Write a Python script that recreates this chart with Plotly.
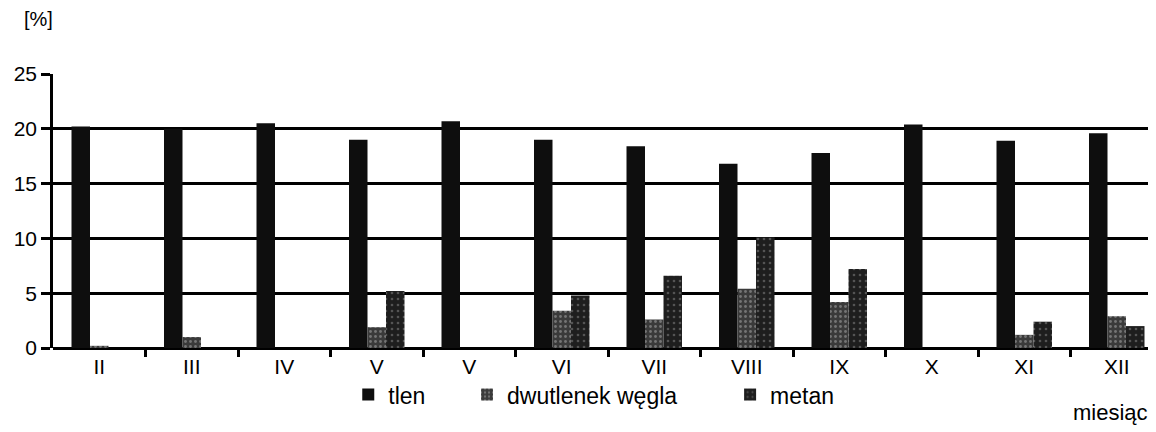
import plotly.graph_objects as go

months = ["II", "III", "IV", "V", "V", "VI", "VII", "VIII", "IX", "X", "XI", "XII"]
tlen = [20.2, 20.0, 20.5, 19.0, 20.7, 19.0, 18.4, 16.8, 17.8, 20.4, 18.9, 19.6]
dwutlenek = [0.2, 1.0, 0.0, 1.9, 0.0, 3.4, 2.6, 5.4, 4.2, 0.0, 1.2, 2.9]
metan = [0.0, 0.0, 0.0, 5.2, 0.0, 4.8, 6.6, 10.1, 7.2, 0.0, 2.4, 2.0]
y_ticks = [0, 5, 10, 15, 20, 25]

xpos = list(range(len(months)))
FONT = "Liberation Sans, Arial, sans-serif"

fig = go.Figure()
fig.add_trace(go.Bar(x=xpos, y=tlen, name="tlen", legend="legend", showlegend=True,
                     marker=dict(color="#0e0e0e", line=dict(width=0))))
fig.add_trace(go.Bar(x=xpos, y=dwutlenek, name="dwutlenek węgla", legend="legend2",
                     showlegend=True,
                     marker=dict(color="#3a3a3a", line=dict(width=0),
                                 pattern=dict(shape=".", bgcolor="#3a3a3a", fgcolor="#b0b0b0",
                                              size=5, solidity=0.25))))
fig.add_trace(go.Bar(x=xpos, y=metan, name="metan", legend="legend3", showlegend=True,
                     marker=dict(color="#1e1e1e", line=dict(width=0),
                                 pattern=dict(shape=".", bgcolor="#1e1e1e", fgcolor="#8a8a8a",
                                              size=6, solidity=0.15))))

leg_common = dict(orientation="h", yanchor="middle", xanchor="left",
                  font=dict(family=FONT, size=23, color="black"),
                  bgcolor="rgba(0,0,0,0)", borderwidth=0, visible=True)

fig.update_layout(
    width=1156, height=432,
    margin=dict(l=45, r=1, t=66, b=92),
    paper_bgcolor="white", plot_bgcolor="white",
    showlegend=True,
    barmode="group", bargap=0.4, bargroupgap=0.0,
    font=dict(family=FONT, size=21, color="black"),
    legend=dict(x=0.266, y=-0.17, **leg_common),
    legend2=dict(x=0.373, y=-0.17, **leg_common),
    legend3=dict(x=0.610, y=-0.17, **leg_common),
    xaxis=dict(range=[-0.5, len(months) - 0.5], tickmode="array", tickvals=xpos,
               ticktext=months, ticks="", showgrid=False, zeroline=False,
               showline=False, ticklabelstandoff=4,
               tickfont=dict(family=FONT, size=21, color="black"),
               minor=dict(tickvals=[i + 0.5 for i in xpos[:-1]], ticks="outside",
                          ticklen=8, tickwidth=2.5, tickcolor="black", showgrid=False)),
    yaxis=dict(range=[0, 25], tickmode="array", tickvals=y_ticks,
               showgrid=True, gridcolor="black", gridwidth=2.5,
               zeroline=True, zerolinecolor="black", zerolinewidth=2.5,
               showline=True, linecolor="black", linewidth=2.5,
               ticks="outside", ticklen=9, tickwidth=2.5, tickcolor="black",
               tickfont=dict(family=FONT, size=21, color="black")),
    annotations=[
        dict(text="[%]", xref="paper", yref="paper", x=-0.013, y=1.2,
             xanchor="center", yanchor="middle", showarrow=False,
             font=dict(family=FONT, size=20, color="black")),
        dict(text="miesiąc", xref="paper", yref="paper", x=0.953, y=-0.235,
             xanchor="center", yanchor="middle", showarrow=False,
             font=dict(family=FONT, size=22, color="black")),
    ],
)

fig.write_html("out.html")
